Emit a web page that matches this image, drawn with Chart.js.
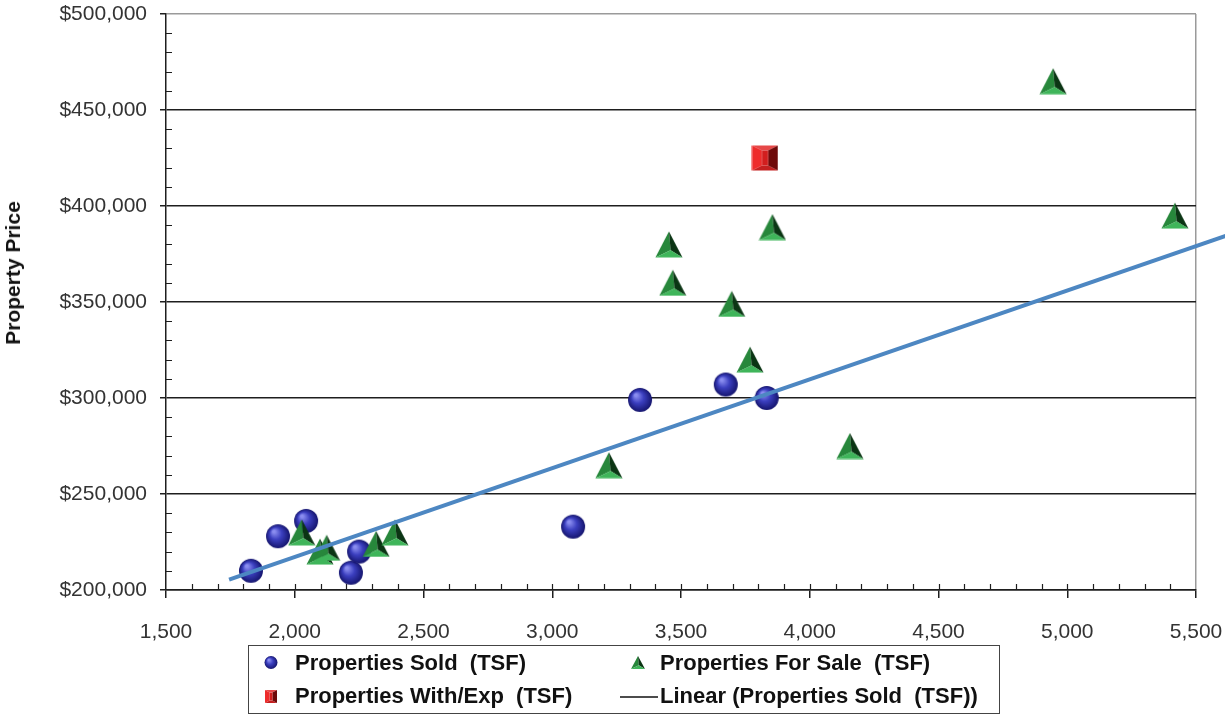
<!DOCTYPE html>
<html lang="en">
<head>
<meta charset="UTF-8">
<title>Property Price vs TSF</title>
<script src="https://cdn.jsdelivr.net/npm/chart.js"></script>
<style>
  html, body { margin: 0; padding: 0; background: #fff; }
  #wrap { position: relative; width: 1225px; height: 715px; font-family: "Liberation Sans", Arial, sans-serif; }
  #chart { position: absolute; left: 0; top: 0; }
  #yTitle { position: absolute; left: 13px; top: 273px; transform: translate(-50%, -50%) rotate(-90deg);
            font-weight: bold; font-size: 21px; color: #111; white-space: nowrap; }
  #legend { position: absolute; left: 248px; top: 645px; width: 752px; height: 69px; box-sizing: border-box;
            border: 1.5px solid #444; display: grid; grid-template-columns: 365px auto; padding-left: 2px; }
  .item { display: flex; align-items: center; height: 33px; font-weight: bold; font-size: 22px; color: #111; white-space: pre; }
  .item canvas { flex: none; }
</style>
</head>
<body>
<div id="wrap">
  <canvas id="chart" width="1225" height="715"></canvas>
  <div id="yTitle">Property Price</div>
  <div id="legend"></div>
</div>

<script>
// values (sq ft, $)
const soldSqft  = [1830, 1935, 2044, 2218, 2250, 3081, 3341, 3674, 3833];
const soldPrice = [210000, 228000, 236000, 209000, 220000, 233000, 299000, 307000, 300000];

const saleSqft  = [2027, 2098, 2124, 2316, 2389, 3220, 3453, 3468, 3697, 3768, 3855, 4156, 4945, 5418];
const salePrice = [230000, 220000, 222000, 224000, 230000, 265000, 380000, 360000, 349000, 320000, 389000, 275000, 465000, 395000];

const withSqft  = [3826];
const withPrice = [425000];

// x range the trend line is drawn over
const trendEnds = [1745, 5620];

const seriesNames = [
    'Properties Sold  (TSF)',
    'Properties For Sale  (TSF)',
    'Properties With/Exp  (TSF)',
    'Linear (Properties Sold  (TSF))'
];

function toPoints(xs, ys) {
    return xs.map((x, i) => ({ x: x, y: ys[i] }));
}

// least squares line through the sold points
function linearFit(xs, ys) {
    const n = xs.length;
    const mx = xs.reduce((a, b) => a + b, 0) / n;
    const my = ys.reduce((a, b) => a + b, 0) / n;
    let sxy = 0, sxx = 0;
    for (let i = 0; i < n; i++) {
        sxy += (xs[i] - mx) * (ys[i] - my);
        sxx += (xs[i] - mx) * (xs[i] - mx);
    }
    const slope = sxy / sxx;
    return { slope: slope, icpt: my - slope * mx };
}

// --- shaded marker drawing ---
function face(ctx, pts, color) {
    ctx.fillStyle = color;
    ctx.beginPath();
    ctx.moveTo(pts[0][0], pts[0][1]);
    for (let i = 1; i < pts.length; i++) ctx.lineTo(pts[i][0], pts[i][1]);
    ctx.closePath();
    ctx.fill();
}

function drawSphere(ctx, cx, cy, r) {
    const g = ctx.createRadialGradient(cx - r * 0.35, cy - r * 0.4, r * 0.1, cx, cy, r);
    g.addColorStop(0, '#8a8df0');
    g.addColorStop(0.45, '#3b3fbf');
    g.addColorStop(1, '#15156e');
    ctx.fillStyle = g;
    ctx.beginPath();
    ctx.arc(cx, cy, r, 0, Math.PI * 2);
    ctx.fill();
}

function drawPyramid(ctx, cx, cy, w, h) {
    const top = [cx, cy - h / 2], bl = [cx - w / 2, cy + h / 2], br = [cx + w / 2, cy + h / 2];
    const mid = [cx + w * 0.06, cy + h * 0.22];
    face(ctx, [top, bl, mid], '#27873b');
    face(ctx, [top, mid, br], '#0b3514');
    face(ctx, [bl, br, mid], '#3fb55a');
}

function drawBlock(ctx, cx, cy, w, h) {
    const x0 = cx - w / 2, y0 = cy - h / 2, x1 = cx + w / 2, y1 = cy + h / 2;
    const ix0 = cx - w * 0.12, ix1 = cx + w * 0.12, iy0 = cy - h * 0.3, iy1 = cy + h * 0.3;
    face(ctx, [[x0, y0], [x1, y0], [ix1, iy0], [ix0, iy0]], '#e64848');
    face(ctx, [[x0, y1], [x1, y1], [ix1, iy1], [ix0, iy1]], '#c42020');
    face(ctx, [[x0, y0], [ix0, iy0], [ix0, iy1], [x0, y1]], '#ee2c2c');
    face(ctx, [[x1, y0], [ix1, iy0], [ix1, iy1], [x1, y1]], '#6e0a0a');
    face(ctx, [[ix0, iy0], [ix1, iy0], [ix1, iy1], [ix0, iy1]], '#d21e1e');
}

function makeImg(w, h, draw) {
    const c = document.createElement('canvas');
    c.width = w; c.height = h;
    draw(c.getContext('2d'));
    return c;
}

const sphereImg  = makeImg(26, 26, ctx => drawSphere(ctx, 13, 13, 12));
const pyramidImg = makeImg(28, 27, ctx => drawPyramid(ctx, 14, 13.5, 27, 26));
const blockImg   = makeImg(27, 26, ctx => drawBlock(ctx, 13.5, 13, 26, 25));

// minor tick marks inside the plot area
const minorTicks = {
    id: 'minorTicks',
    beforeDatasetsDraw(chart) {
        const { ctx, chartArea, scales } = chart;
        const x = scales.x, y = scales.y;
        ctx.save();
        ctx.strokeStyle = '#1e1e1e';
        ctx.lineWidth = 1.2;
        ctx.beginPath();
        for (let v = x.min + 100; v < x.max; v += 100) {
            const px = Math.round(x.getPixelForValue(v)) + 0.5;
            ctx.moveTo(px, chartArea.bottom);
            ctx.lineTo(px, chartArea.bottom - 6);
        }
        for (let v = y.min + 10000; v < y.max; v += 10000) {
            if (v % 50000 === 0) continue;
            const py = Math.round(y.getPixelForValue(v)) + 0.5;
            ctx.moveTo(chartArea.left, py);
            ctx.lineTo(chartArea.left + 6, py);
        }
        ctx.stroke();
        ctx.restore();
    }
};

const fit = linearFit(soldSqft, soldPrice);
const trendPts = trendEnds.map(x => ({ x: x, y: fit.icpt + fit.slope * x }));

const tickFont = { family: '"Liberation Sans", Arial, sans-serif', size: 21 };

const chart = new Chart(document.getElementById('chart').getContext('2d'), {
    type: 'scatter',
    data: {
        datasets: [
            { label: seriesNames[0], data: toPoints(soldSqft, soldPrice), pointStyle: sphereImg, pointRadius: 12, order: 3 },
            { label: seriesNames[1], data: toPoints(saleSqft, salePrice), pointStyle: pyramidImg, pointRadius: 13, order: 2 },
            { label: seriesNames[2], data: toPoints(withSqft, withPrice), pointStyle: blockImg, pointRadius: 13, order: 1 },
            {
                label: seriesNames[3], data: trendPts, showLine: true, pointRadius: 0,
                borderColor: '#4d87c2', borderWidth: 4, clip: false, order: 0
            }
        ]
    },
    options: {
        responsive: false,
        animation: false,
        layout: { padding: { top: 13, right: 29, left: 0, bottom: 0 } },
        plugins: { legend: { display: false }, tooltip: { enabled: false } },
        scales: {
            x: {
                type: 'linear', min: 1500, max: 5500,
                afterFit: s => { s.height = 125; s.paddingLeft = 0; s.paddingRight = 0; },
                ticks: {
                    stepSize: 500, font: tickFont, color: '#333', padding: 22, maxRotation: 0, autoSkip: false,
                    callback: v => v.toLocaleString('en-US')
                },
                grid: {
                    color: c => c.tick && c.tick.value === 5500 ? '#9a9a9a' : 'rgba(0,0,0,0)',
                    lineWidth: 1.5, tickColor: '#1e1e1e', tickLength: 8
                },
                border: { color: '#1e1e1e', width: 1.5 }
            },
            y: {
                min: 200000, max: 500000,
                afterFit: s => { s.width = 166; s.paddingTop = 0; s.paddingBottom = 0; },
                ticks: {
                    stepSize: 50000, font: tickFont, color: '#333', padding: 13,
                    callback: v => '$' + v.toLocaleString('en-US')
                },
                grid: {
                    color: c => c.tick && c.tick.value === 500000 ? '#9a9a9a' : '#1e1e1e',
                    lineWidth: 1.5, tickColor: '#1e1e1e', tickLength: 6
                },
                border: { color: '#1e1e1e', width: 1.5 }
            }
        }
    },
    plugins: [minorTicks]
});

// legend: two columns, built from the chart's datasets
const legendMarks = [
    ctx => drawSphere(ctx, 20, 16.5, 6.5),
    ctx => drawPyramid(ctx, 22, 16.5, 14, 13),
    ctx => drawBlock(ctx, 20, 16.5, 12, 13),
    ctx => { ctx.strokeStyle = '#111'; ctx.lineWidth = 1.5; ctx.beginPath(); ctx.moveTo(4, 17); ctx.lineTo(42, 17); ctx.stroke(); }
];
const legendEl = document.getElementById('legend');
chart.data.datasets.forEach((ds, i) => {
    const item = document.createElement('div');
    item.className = 'item';
    item.appendChild(makeImg(44, 33, legendMarks[i]));
    const span = document.createElement('span');
    span.textContent = ds.label;
    item.appendChild(span);
    legendEl.appendChild(item);
});
</script>
</body>
</html>
